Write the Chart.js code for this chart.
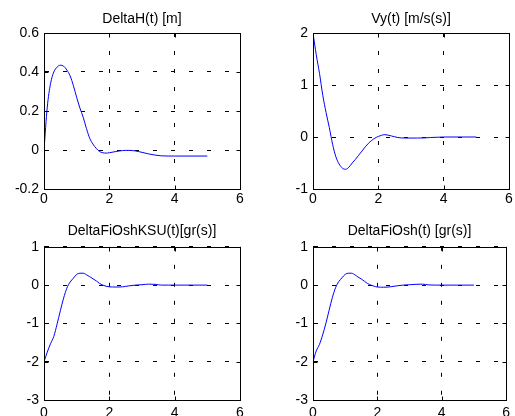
<!DOCTYPE html>
<html>
<head>
<meta charset="utf-8">
<script src="https://cdn.jsdelivr.net/npm/chart.js@4"></script>
<style>
  body { margin: 0; background: #fff; }
  #wrap { position: relative; width: 515px; height: 416px; overflow: hidden; }
  canvas { position: absolute; }
</style>
</head>
<body>
<div id="wrap">
  <canvas id="c_h" width="257" height="205" style="left:0;top:0"></canvas>
  <canvas id="c_vy" width="258" height="205" style="left:257px;top:0"></canvas>
  <canvas id="c_ksu" width="257" height="211" style="left:0;top:205px"></canvas>
  <canvas id="c_osh" width="258" height="211" style="left:257px;top:205px"></canvas>
</div>
<script>
// time, s
const time = [0, 0.1, 0.2, 0.3, 0.4, 0.5, 0.6, 0.7, 0.8, 0.9, 1.0, 1.1, 1.2, 1.3, 1.4, 1.5, 1.6, 1.7, 1.8, 1.9,
  2.0, 2.2, 2.4, 2.6, 2.8, 3.0, 3.2, 3.4, 3.6, 3.8, 4.0, 4.5, 5.0];

const deltaH = [0, 0.22, 0.34, 0.40, 0.425, 0.435, 0.43, 0.41, 0.38, 0.33, 0.27, 0.215, 0.168, 0.11, 0.06, 0.03, 0.008, -0.008, -0.014, -0.016,
  -0.014, -0.008, -0.003, -0.002, -0.005, -0.012, -0.02, -0.026, -0.03, -0.031, -0.031, -0.031, -0.031];

const vy = [2.0, 1.58, 1.22, 0.8, 0.47, 0.18, -0.14, -0.38, -0.52, -0.6, -0.62, -0.58, -0.5, -0.43, -0.35, -0.27, -0.19, -0.12, -0.065, -0.02,
  0.01, 0.045, 0.02, -0.01, -0.02, -0.02, -0.02, -0.018, -0.01, -0.005, 0, 0, 0];

const fiKSU = [-2.0, -1.75, -1.53, -1.34, -1.02, -0.67, -0.34, -0.08, 0.08, 0.18, 0.28, 0.31, 0.31, 0.27, 0.22, 0.165, 0.11, 0.045, 0, -0.03,
  -0.045, -0.05, -0.045, -0.02, 0, 0.01, 0.025, 0.02, 0, 0, 0, 0, 0];

const fiOsh = [-2.0, -1.72, -1.55, -1.3, -1.0, -0.66, -0.33, -0.07, 0.09, 0.19, 0.28, 0.31, 0.31, 0.27, 0.21, 0.16, 0.1, 0.04, 0, -0.03,
  -0.05, -0.055, -0.045, -0.02, 0, 0.01, 0.02, 0.025, 0.005, 0, 0, 0, 0];

const xTicks = [0, 2, 4, 6];
const hTicks = [-0.2, 0, 0.2, 0.4, 0.6];
const vyTicks = [-1, 0, 1, 2];
const fiTicks = [-3, -2, -1, 0, 1];

Chart.defaults.font.family = "'Liberation Sans', Arial, sans-serif";
Chart.defaults.font.size = 14;
Chart.defaults.color = '#000';

// matlab style box with inward tick marks, title centred over the plot box
const boxPlugin = {
  id: 'box',
  afterLayout(chart) {
    if (chart.titleBlock) {
      chart.titleBlock.left = chart.chartArea.left;
      chart.titleBlock.right = chart.chartArea.right;
    }
  },
  afterDraw(chart) {
    const { ctx, chartArea: a, scales: { x, y } } = chart;
    const l = Math.round(a.left) + 0.5, r = Math.round(a.right) + 0.5;
    const t = Math.round(a.top) + 0.5, b = Math.round(a.bottom) + 0.5;
    ctx.save();
    ctx.strokeStyle = '#000';
    ctx.lineWidth = 1;
    ctx.beginPath();
    ctx.rect(l, t, r - l, b - t);
    x.ticks.forEach(tk => {
      const px = Math.round(x.getPixelForValue(tk.value)) + 0.5;
      ctx.moveTo(px, b); ctx.lineTo(px, b - 4);
      ctx.moveTo(px, t); ctx.lineTo(px, t + 4);
    });
    y.ticks.forEach(tk => {
      const py = Math.round(y.getPixelForValue(tk.value)) + 0.5;
      ctx.moveTo(l, py); ctx.lineTo(l + 4, py);
      ctx.moveTo(r, py); ctx.lineTo(r - 4, py);
    });
    ctx.stroke();
    ctx.restore();
  }
};

function makeChart(id, title, values, yTicks, yWidth, rightPad, titlePad, xHeight, xPad) {
  return new Chart(document.getElementById(id), {
    type: 'line',
    data: {
      datasets: [{
        data: time.map((t, i) => ({ x: t, y: values[i] })),
        borderColor: '#0000ff',
        borderWidth: 1,
        pointRadius: 0,
        cubicInterpolationMode: 'monotone',
        fill: false
      }]
    },
    options: {
      responsive: false,
      animation: false,
      events: [],
      layout: { padding: { left: 0, right: rightPad, top: 0, bottom: 0 } },
      plugins: {
        legend: { display: false },
        tooltip: { enabled: false },
        title: {
          display: true,
          text: title,
          color: '#000',
          font: { size: 14, weight: 'normal' },
          padding: titlePad
        }
      },
      scales: {
        x: {
          type: 'linear',
          min: 0,
          max: 6,
          afterBuildTicks: s => { s.ticks = xTicks.map(v => ({ value: v })); },
          afterFit: s => { s.height = xHeight; },
          ticks: { padding: xPad, maxRotation: 0, autoSkip: false, callback: v => String(v) },
          grid: { color: '#000', lineWidth: 1, drawTicks: false },
          border: { color: '#000', width: 1, dash: [4, 14] }
        },
        y: {
          min: yTicks[0],
          max: yTicks[yTicks.length - 1],
          afterBuildTicks: s => { s.ticks = yTicks.map(v => ({ value: v })); },
          afterFit: s => { s.width = yWidth; },
          ticks: { padding: 5, autoSkip: false, callback: v => String(Math.round(v * 10) / 10) },
          grid: { color: '#000', lineWidth: 1, drawTicks: false },
          border: { color: '#000', width: 1, dash: [4, 14] }
        }
      }
    },
    plugins: [boxPlugin]
  });
}

makeChart('c_h', 'DeltaH(t) [m]', deltaH, hTicks, 44, 17, { top: 11, bottom: 5.2 }, 16, 2);
makeChart('c_vy', 'Vy(t) [m/s(s)]', vy, vyTicks, 56, 6, { top: 11, bottom: 5.2 }, 16, 2);
makeChart('c_ksu', 'DeltaFiOshKSU(t)[gr(s)]', fiKSU, fiTicks, 44, 17, { top: 18, bottom: 7 }, 16, 5);
makeChart('c_osh', 'DeltaFiOsh(t) [gr(s)]', fiOsh, fiTicks, 56, 6, { top: 18, bottom: 7 }, 16, 5);
</script>
</body>
</html>
